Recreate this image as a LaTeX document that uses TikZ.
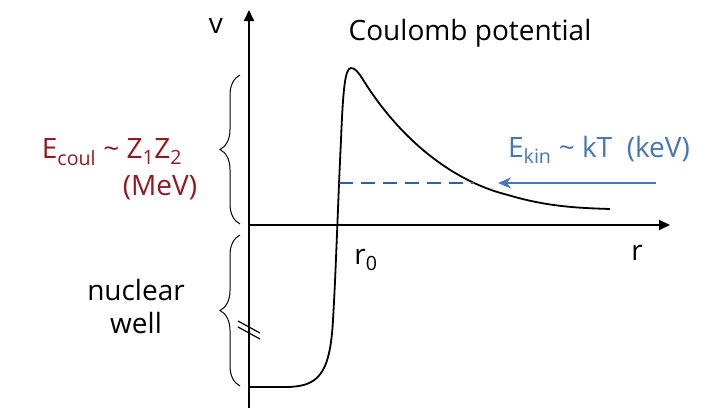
\documentclass[tikz,border=0pt]{standalone}
\usepackage{fontspec}
\setmainfont{Open Sans}
\usetikzlibrary{arrows.meta,decorations.pathreplacing}
\definecolor{coulred}{RGB}{140,28,34}
\definecolor{kinblue}{RGB}{72,118,180}
\definecolor{dashblue}{RGB}{46,96,166}
\tikzset{
  axis/.style={line width=2pt,-{Triangle[length=11pt,width=10pt]}},
  pot/.style={line width=1.8pt,line join=round},
  bracket/.style={line width=1pt,decorate,decoration={brace,amplitude=20pt}},
  lbl/.style={font=\fontsize{28}{33}\selectfont,inner sep=0pt},
}
\begin{document}
\begin{tikzpicture}[x=1pt,y=-1pt]
\useasboundingbox (0,0) rectangle (718,410);
\coordinate (origin) at (249,225);
\coordinate (ybot) at (249,408);
\coordinate (ytop) at (249,10);
\coordinate (xend) at (670,225);
\coordinate (r0) at (339,183);
\coordinate (cross) at (474,183);
\coordinate (kinstart) at (656,183);
\coordinate (kinend) at (498,183);
\draw[axis] (ybot) -- (ytop);
\draw[axis] (origin) -- (xend);
\draw[pot] (250,387) -- (285,387) .. controls (318,387) and (330,375) .. (333,320)
  .. controls (336,270) and (338,200) .. (341,140)
  .. controls (343,90) and (345,68) .. (351,68)
  .. controls (355,68) and (358,72) .. (362,78)
  .. controls (390,124) and (440,178) .. (508,195)
  .. controls (548,207) and (580,208) .. (610,209);
\draw[dashblue,line width=2.4pt,dash pattern=on 14pt off 8pt] (r0) -- (cross);
\draw[kinblue,line width=2pt,-{Stealth[length=13pt,width=11pt]}] (kinstart) -- (kinend);
\draw[bracket] (240,224) -- (240,75);
\draw[bracket] (240,386) -- (240,235);
\draw[line width=1.2pt] (238,321) -- (260,333);
\draw[line width=1.2pt] (238,327) -- (260,339);
\node[lbl] (v) at (216,26) {v};
\node[lbl] (title) at (470,33) {Coulomb potential};
\node[lbl,coulred] (ecoul) at (112,152) {E\textsubscript{coul} \textasciitilde\ Z\textsubscript{1}Z\textsubscript{2}};
\node[lbl,coulred] (mev) at (160,188) {(MeV)};
\node[lbl,kinblue] (ekin) at (599,150) {E\textsubscript{kin} \textasciitilde\ kT\ \ (keV)};
\node[lbl,align=center] (well) at (136,306) {nuclear\\well};
\node[lbl] (rzero) at (366,260) {r\textsubscript{0}};
\node[lbl] (r) at (637,253) {r};
\end{tikzpicture}
\end{document}
